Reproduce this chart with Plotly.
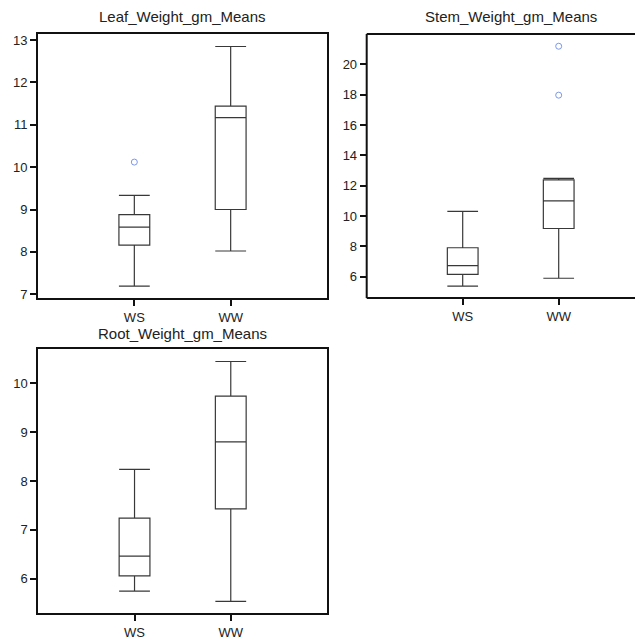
import plotly.graph_objects as go

# The page body has an 8px default margin, so the figure is drawn 8px smaller
# and all reference pixel positions are shifted by that offset.
PAGE = 643
OFF = 8
W = H = PAGE - OFF

groups = ["WS", "WW"]

# five-number summaries: lower whisker, Q1, median, Q3, upper whisker
leaf_ws = [7.19, 8.16, 8.585, 8.88, 9.335]
leaf_ww = [8.02, 9.00, 11.17, 11.44, 12.85]
leaf_outliers_ws = [10.12]

stem_ws = [5.37, 6.15, 6.72, 7.90, 10.30]
stem_ww = [5.89, 9.17, 11.00, 12.38, 12.48]
stem_outliers_ww = [17.97, 21.2]

root_ws = [5.74, 6.054, 6.46, 7.24, 8.237]
root_ww = [5.53, 7.43, 8.80, 9.74, 10.45]

titles = ["Leaf_Weight_gm_Means", "Stem_Weight_gm_Means", "Root_Weight_gm_Means"]

leaf_ticks = [7, 8, 9, 10, 11, 12, 13]
stem_ticks = [6, 8, 10, 12, 14, 16, 18, 20]
root_ticks = [6, 7, 8, 9, 10]

FONT = "Liberation Sans, Arial, sans-serif"
BOX_LINE = "#383838"
OUT_COL = "#7b98ee"
FRAME = "#111"


def px_x(p):
    return (p - OFF) / W


def px_y(p):
    return (H - (p - OFF)) / H


fig = go.Figure()


def add_boxes(stats_list, xref, yref):
    for g, s in zip(groups, stats_list):
        fig.add_trace(go.Box(
            x=[g], lowerfence=[s[0]], q1=[s[1]], median=[s[2]], q3=[s[3]], upperfence=[s[4]],
            xaxis=xref, yaxis=yref, width=0.32, whiskerwidth=1,
            line=dict(color=BOX_LINE, width=1.2), fillcolor="rgba(0,0,0,0)",
            showlegend=False, hoverinfo="skip", boxpoints=False,
        ))


def add_outliers(g, vals, xref, yref):
    fig.add_trace(go.Scatter(
        x=[g] * len(vals), y=vals, mode="markers", xaxis=xref, yaxis=yref,
        marker=dict(symbol="circle-open", size=6, color=OUT_COL, line=dict(width=1, color=OUT_COL)),
        showlegend=False, hoverinfo="skip",
    ))


add_boxes([leaf_ws, leaf_ww], "x", "y")
add_outliers("WS", leaf_outliers_ws, "x", "y")
add_boxes([stem_ws, stem_ww], "x2", "y2")
add_outliers("WW", stem_outliers_ww, "x2", "y2")
add_boxes([root_ws, root_ww], "x3", "y3")

axis_common = dict(
    linecolor=FRAME, linewidth=2, showgrid=False, zeroline=False,
    ticks="outside", ticklen=6, tickwidth=1.5, tickcolor=FRAME,
)
xfont = dict(family=FONT, size=13, color="#222")
yfont = dict(family=FONT, size=13, color="#222")

# panel geometry in reference pixels
p1 = dict(x0=38, x1=327, y0=33, y1=299.3)
p2 = dict(x0=366.7, x1=643, y0=33.3, y1=299.3)
p3 = dict(x0=38.3, x1=327, y0=351, y1=616.7)

cat_px = 96.0
p2_range_max = -1 + (p2["x1"] - p2["x0"]) / cat_px

fig.update_layout(
    width=W, height=H, margin=dict(l=0, r=0, t=0, b=0),
    paper_bgcolor="white", plot_bgcolor="white",
    boxmode="overlay",
    xaxis=dict(domain=[px_x(p1["x0"]), px_x(p1["x1"])], anchor="y", type="category",
               categoryorder="array", categoryarray=groups, range=[-1, 2],
               showline=True, mirror=True, tickfont=xfont, ticklabelstandoff=0, **axis_common),
    yaxis=dict(domain=[px_y(p1["y1"]), px_y(p1["y0"])], anchor="x", range=[6.91, 13.15],
               tickvals=leaf_ticks, showline=True, mirror=True, tickfont=yfont, **axis_common),
    xaxis2=dict(domain=[px_x(p2["x0"]), 1.0], anchor="y2", type="category",
                categoryorder="array", categoryarray=groups, range=[-1, p2_range_max],
                showline=False, tickfont=xfont, ticklabelstandoff=0, **axis_common),
    yaxis2=dict(domain=[px_y(p2["y1"]), px_y(p2["y0"])], anchor="x2", range=[4.585, 22.0],
                tickvals=stem_ticks, showline=False, tickfont=yfont, **axis_common),
    xaxis3=dict(domain=[px_x(p3["x0"]), px_x(p3["x1"])], anchor="y3", type="category",
                categoryorder="array", categoryarray=groups, range=[-1, 2],
                showline=True, mirror=True, tickfont=xfont, ticklabelstandoff=0, **axis_common),
    yaxis3=dict(domain=[px_y(p3["y1"]), px_y(p3["y0"])], anchor="x3", range=[5.295, 10.70],
                tickvals=root_ticks, showline=True, mirror=True, tickfont=yfont, **axis_common),
)

# open frame of the stem panel (it runs off the right edge of the page)
x2a, x2b = px_x(p2["x0"]), 1.0
y2a, y2b = px_y(p2["y1"]), px_y(p2["y0"])
for xa, ya, xb, yb in [(x2a, y2a, x2b, y2a), (x2a, y2b, x2b, y2b), (x2a, y2a, x2a, y2b)]:
    fig.add_shape(type="line", xref="paper", yref="paper", x0=xa, y0=ya, x1=xb, y1=yb,
                  line=dict(color=FRAME, width=2), layer="above")

title_pos = [(182.5, 16), (510.7, 16), (182.5, 335.5)]
for t, (tx, ty) in zip(titles, title_pos):
    fig.add_annotation(text=t, x=px_x(tx), y=px_y(ty), xref="paper", yref="paper",
                       showarrow=False, xanchor="center", yanchor="middle",
                       font=dict(family=FONT, size=15, color="#222"))

fig.write_html("out.html")
